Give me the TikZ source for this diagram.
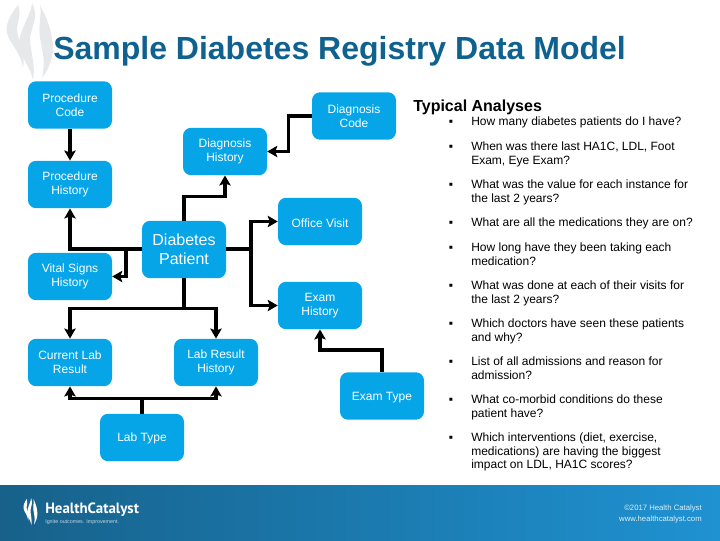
\documentclass[tikz,border=0pt]{standalone}
\usepackage{fontspec}
\setmainfont{Liberation Sans}
\newfontfamily\brandfont{PT Sans}
\definecolor{boxblue}{HTML}{05A5E8}
\definecolor{titleblue}{HTML}{0F628F}
\definecolor{bandleft}{HTML}{17618A}
\definecolor{bandright}{HTML}{1F92D2}
\definecolor{smoke}{HTML}{E6E8EA}
\usetikzlibrary{arrows.meta,calc}

\newcommand{\flames}[1]{%
  \fill[#1] (18,5) .. controls (10,15) and (5,25) .. (7,33) .. controls (9,43) and (20,50) .. (23,68)
    .. controls (26,55) and (18,40) .. (17,30) .. controls (17,22) and (22,15) .. (18,5) -- cycle;
  \fill[#1] (32,3) .. controls (32,12) and (20,30) .. (19,42) .. controls (18,55) and (30,65) .. (33,80)
    .. controls (36,65) and (30,50) .. (30,40) .. controls (30,28) and (40,18) .. (32,3) -- cycle;
  \fill[#1] (40,5) .. controls (42,15) and (38,25) .. (40,38) .. controls (42,50) and (46,60) .. (42,78)
    .. controls (52,65) and (55,50) .. (52,38) .. controls (50,25) and (45,15) .. (40,5) -- cycle;}

\begin{document}
\begin{tikzpicture}[x=0.75pt, y=-0.75pt, >={Stealth[length=7.5pt,width=8.5pt,inset=1.5pt]},
    box/.style={fill=boxblue, rounded corners=6pt, minimum width=63pt, minimum height=35.5pt,
                inner sep=0pt, align=center, text=white, font=\fontsize{9}{10.5}\selectfont,
                execute at begin node={\rule{0pt}{8.5pt}}},
    itm/.style={anchor=north west, inner sep=0pt, align=left, font=\fontsize{9}{9.8}\selectfont},
    blt/.style={anchor=center, inner sep=0pt, font=\fontsize{9}{9.8}\selectfont},
    lnk/.style={line width=2.5pt, ->}]

  \useasboundingbox (0,0) rectangle (720,540);

  % Backdrop
  \flames{smoke}
  \shade[left color=bandleft, right color=bandright] (0,485) rectangle (720,540);
  \node[anchor=west, inner sep=0pt, text=titleblue, font=\fontsize{24}{28}\bfseries\selectfont] (title)
    at (53,51) {Sample Diabetes Registry Data Model};

  % Tables
  \node[box] (pc) at (70,105) {Procedure\\Code};
  \node[box] (ph) at (70,184.5) {Procedure\\History};
  \node[box] (dc) at (354,116) {Diagnosis\\Code};
  \node[box] (dh) at (225,151.5) {Diagnosis\\History};
  \node[box] (ov) at (320,221.5) {Office Visit};
  \node[box, minimum height=43pt, font=\fontsize{12}{14.2}\selectfont] (dp) at (184,249.5) {Diabetes\\Patient};
  \node[box] (vs) at (70,276.5) {Vital Signs\\History};
  \node[box] (eh) at (320,305.5) {Exam\\History};
  \node[box] (cl) at (70,362.5) {Current Lab\\Result};
  \node[box] (lr) at (216,362.5) {Lab Result\\History};
  \node[box] (lt) at (142,437.5) {Lab Type};
  \node[box] (et) at (382,396) {Exam Type};

  % Links
  \draw[lnk] (pc) -- (ph);
  \draw[lnk] (dc.west) -- ++(-23,0) |- (dh.east);
  \draw[lnk] (dp.north) -- ++(0,-24) -| (dh.south);
  \draw[lnk] (dp.west |- 0,249) -| (ph.south);
  \draw[lnk] (dp.west |- 0,249) -- (126,249) |- (vs.east);
  \draw[lnk] (dp.east |- 0,249) -- (251,249) |- (ov.west);
  \draw[lnk] (dp.east |- 0,249) -- (251,249) |- (eh.west);
  \draw[lnk] (dp.south) -- ++(0,30) -| (cl.north);
  \draw[lnk] (dp.south) -- ++(0,30) -| (lr.north);
  \draw[lnk] (lt.north) -- ++(0,-15) -| (cl.south);
  \draw[lnk] (lt.north) -- ++(0,-15) -| (lr.south);
  \draw[lnk] (et.north) -- ++(0,-22) -| (eh.south);

  % Analyses
  \node[anchor=west, inner sep=0pt, font=\fontsize{12}{14}\bfseries\selectfont] (ta) at (413,107) {Typical Analyses};
  \node[blt] (b1) at (451,123) {▪};
  \node[itm] (q1) at (471,117) {How many diabetes patients do I have?};
  \node[blt] (b2) at (451,148) {▪};
  \node[itm] (q2) at (471,142) {When was there last HA1C, LDL, Foot\\Exam, Eye Exam?};
  \node[blt] (b3) at (451,186) {▪};
  \node[itm] (q3) at (471,180) {What was the value for each instance for\\the last 2 years?};
  \node[blt] (b4) at (451,224) {▪};
  \node[itm] (q4) at (471,218) {What are all the medications they are on?};
  \node[blt] (b5) at (451,249) {▪};
  \node[itm] (q5) at (471,243) {How long have they been taking each\\medication?};
  \node[blt] (b6) at (451,287) {▪};
  \node[itm] (q6) at (471,281) {What was done at each of their visits for\\the last 2 years?};
  \node[blt] (b7) at (451,325) {▪};
  \node[itm] (q7) at (471,319) {Which doctors have seen these patients\\and why?};
  \node[blt] (b8) at (451,363) {▪};
  \node[itm] (q8) at (471,357) {List of all admissions and reason for\\admission?};
  \node[blt] (b9) at (451,401) {▪};
  \node[itm] (q9) at (471,395) {What co-morbid conditions do these\\patient have?};
  \node[blt] (b10) at (451,439) {▪};
  \node[itm] (q10) at (471,433) {Which interventions (diet, exercise,\\medications) are having the biggest\\impact on LDL, HA1C scores?};

  % Footer
  \begin{scope}[shift={(21.5,497)}, x=0.225pt, y=-0.2625pt]
    \flames{white}
  \end{scope}
  \node[anchor=west, inner sep=0pt, text=white, font=\brandfont\fontsize{11.2}{14}\bfseries\selectfont] (brand) at (45,510) {HealthCatalyst};
  \node[anchor=west, inner sep=0pt, text=white!75!bandleft, font=\fontsize{4}{5}\selectfont] (tag) at (45,522) {Ignite outcomes. Improvement.};
  \node[anchor=north east, inner sep=0pt, align=right, text=white!85!bandright, font=\fontsize{5.8}{7.6}\selectfont] (cr)
    at (702,505) {©2017 Health Catalyst\\www.healthcatalyst.com};
\end{tikzpicture}
\end{document}
